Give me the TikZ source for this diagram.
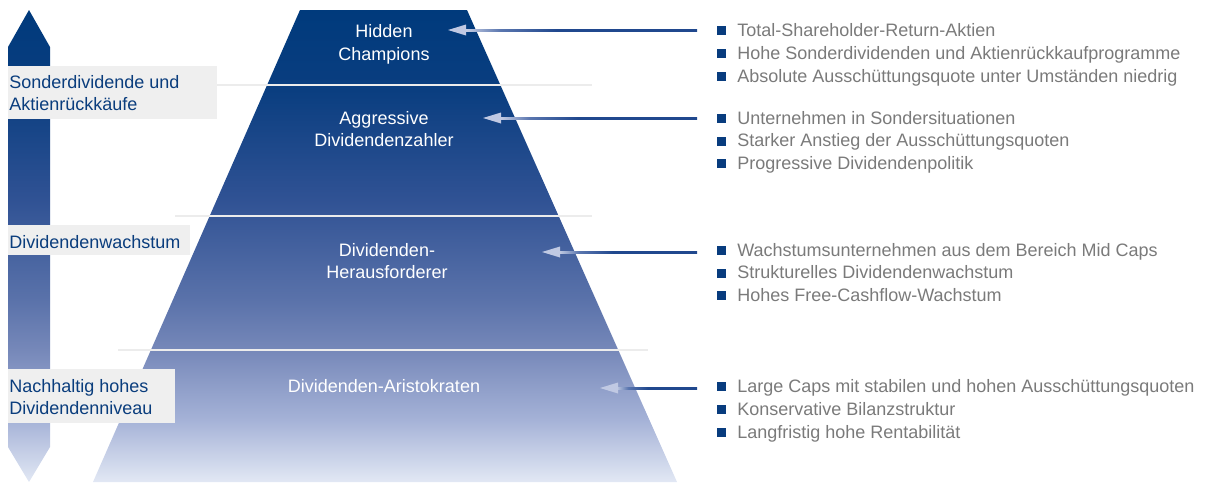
\documentclass[tikz,border=0pt]{standalone}
\usepackage{fontspec}
\setmainfont{Liberation Sans}
\usetikzlibrary{calc}
\definecolor{navy}{RGB}{0,58,124}
\definecolor{c90}{RGB}{10,62,128}
\definecolor{c200}{RGB}{48,82,148}
\definecolor{c300}{RGB}{90,114,170}
\definecolor{c350}{RGB}{118,136,185}
\definecolor{c420}{RGB}{165,178,215}
\definecolor{c482}{RGB}{226,232,244}
\definecolor{boxgray}{RGB}{239,239,239}
\definecolor{sepgray}{RGB}{236,236,236}
\definecolor{labblue}{RGB}{10,61,125}
\definecolor{txtgray}{RGB}{122,122,122}
\definecolor{sqblue}{RGB}{8,60,126}
\definecolor{alight}{RGB}{205,212,232}
\definecolor{amid}{RGB}{90,118,175}
\definecolor{adark}{RGB}{32,72,142}
\definecolor{ahead}{RGB}{192,201,227}
\pgfdeclareverticalshading{pyr}{100bp}{color(0bp)=(c482); color(25bp)=(c482); color(31.6bp)=(c420); color(39bp)=(c350); color(44.3bp)=(c300); color(54.9bp)=(c200); color(66.5bp)=(c90); color(75bp)=(navy); color(100bp)=(navy)}
\pgfdeclarehorizontalshading{arrshade}{100bp}{color(0bp)=(alight); color(25bp)=(alight); color(33bp)=(amid); color(45bp)=(adark); color(75bp)=(adark); color(100bp)=(adark)}
\newcommand\fsz{\fontsize{13.5pt}{16.875pt}\selectfont}
\newcommand\bsq{{\color{sqblue}\rule[0.75pt]{6.75pt}{6.75pt}}\hspace{8.25pt}}
\tikzset{
  plab/.style={text=white, font=\fsz, inner sep=0, anchor=base},
  side/.style={text=labblue, font=\fsz, inner sep=0, anchor=base west},
  bl/.style={text=txtgray, font=\fsz, inner sep=0, anchor=base west},
  sepline/.style={draw=sepgray, line width=1.875pt},
  greybox/.style={fill=boxgray},
  arrbar/.style={shading=arrshade},
  arrhead/.style={fill=ahead}
}
\begin{document}
\begin{tikzpicture}[x=0.75pt,y=-0.75pt]
\useasboundingbox (0,0) rectangle (1205,482);
% left double arrow
\shade[shading=pyr] (8,47) -- (29,10) -- (50,47) -- (50,447) -- (29,482) -- (8,447) -- cycle;
% pyramid
\shade[shading=pyr] (300,10) -- (467,10) -- (677,482) -- (93,482) -- cycle;
% separators
\draw[sepline] (217,85) -- (592,85);
\draw[sepline] (175,216) -- (592,216);
\draw[sepline] (118,350) -- (648,350);
% side boxes
\fill[greybox] (8,66) rectangle (217,119);
\fill[greybox] (8,225) rectangle (190,255);
\fill[greybox] (8,369) rectangle (175,423);
\node[side] (s1a) at (9,88) {Sonderdividende und};
\node[side] (s1b) at (9,110) {Aktienrückkäufe};
\node[side] (s2) at (9,248) {Dividendenwachstum};
\node[side] (s3a) at (9,392) {Nachhaltig hohes};
\node[side] (s3b) at (9,414) {Dividendenniveau};
% pyramid labels
\node[plab] (p1a) at (384,37) {Hidden};
\node[plab] (p1b) at (384,60) {Champions};
\node[plab] (p2a) at (384,124) {Aggressive};
\node[plab] (p2b) at (384,146) {Dividendenzahler};
\node[plab] (p3a) at (387,256) {Dividenden-};
\node[plab] (p3b) at (387,278) {Herausforderer};
\node[plab] (p4) at (384,392) {Dividenden-Aristokraten};
% bullet lists
\node[bl] (b11) at (717,36) {\bsq Total-Shareholder-Return-Aktien};
\node[bl] (b12) at (717,59) {\bsq Hohe Sonderdividenden und Aktienrückkaufprogramme};
\node[bl] (b13) at (717,82) {\bsq Absolute Ausschüttungsquote unter Umständen niedrig};
\node[bl] (b21) at (717,124) {\bsq Unternehmen in Sondersituationen};
\node[bl] (b22) at (717,146.5) {\bsq Starker Anstieg der Ausschüttungsquoten};
\node[bl] (b23) at (717,169) {\bsq Progressive Dividendenpolitik};
\node[bl] (b31) at (717,256) {\bsq Wachstumsunternehmen aus dem Bereich Mid Caps};
\node[bl] (b32) at (717,278.5) {\bsq Strukturelles Dividendenwachstum};
\node[bl] (b33) at (717,301) {\bsq Hohes Free-Cashflow-Wachstum};
\node[bl] (b41) at (717,392) {\bsq Large Caps mit stabilen und hohen Ausschüttungsquoten};
\node[bl] (b42) at (717,415) {\bsq Konservative Bilanzstruktur};
\node[bl] (b43) at (717,438) {\bsq Langfristig hohe Rentabilität};
% arrows
\coordinate (t1) at (448,30);  \coordinate (e1) at (697,30);
\coordinate (t2) at (483,118); \coordinate (e2) at (697,118);
\coordinate (t3) at (542,252); \coordinate (e3) at (697,252);
\coordinate (t4) at (600,388); \coordinate (e4) at (697,388);
\foreach \i in {1,2,3,4}{
  \shade[arrbar] ($(t\i)+(15,-1)$) rectangle ($(e\i)+(0,1)$);
  \fill[arrhead] (t\i) -- ++(18,-5.5) -- ++(0,11) -- cycle;
}
\end{tikzpicture}
\end{document}
